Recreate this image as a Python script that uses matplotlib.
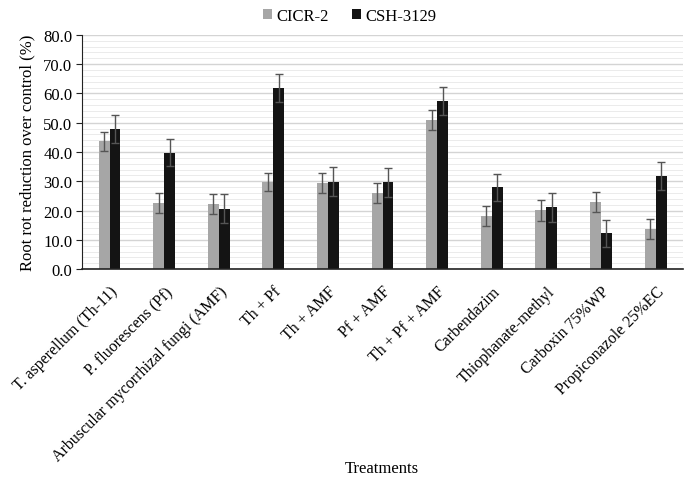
import numpy as np
import matplotlib.pyplot as plt
from matplotlib.ticker import MultipleLocator

plt.rcParams['font.family'] = ['Liberation Serif', 'DejaVu Serif']

tratamentos = ["T. asperellum (Th-11)", "P. fluorescens (Pf)", "Arbuscular mycorrhizal fungi (AMF)",
               "Th + Pf", "Th + AMF", "Pf + AMF", "Th + Pf + AMF", "Carbendazim",
               "Thiophanate-methyl", "Carboxin 75%WP", "Propiconazole 25%EC"]
cicr = [43.6, 22.6, 22.2, 29.9, 29.3, 26.0, 50.9, 18.2, 20.1, 23.0, 13.8]
cicr_err = [3.3, 3.3, 3.3, 3.1, 3.4, 3.4, 3.5, 3.5, 3.5, 3.4, 3.4]
csh = [47.9, 39.8, 20.7, 62.0, 29.9, 29.6, 57.4, 27.9, 21.1, 12.2, 31.9]
csh_err = [4.7, 4.6, 4.8, 4.8, 4.9, 4.9, 4.7, 4.6, 4.9, 4.6, 4.8]

x = np.arange(len(tratamentos))
w = 0.2

fig = plt.figure(figsize=(6.85, 4.85), dpi=100)
ax = fig.add_axes([0.12, 0.443, 0.877, 0.483])

ax.set_axisbelow(True)
ax.yaxis.set_major_locator(MultipleLocator(10))
ax.yaxis.set_minor_locator(MultipleLocator(2))
ax.grid(axis='y', which='major', color='#d4d4d4', linewidth=1.0)
ax.grid(axis='y', which='minor', color='#ebebeb', linewidth=0.7)

erro = dict(ecolor='#555555', elinewidth=1.0, capsize=3, capthick=1.0)
ax.bar(x - w/2, cicr, w, yerr=cicr_err, color='#a6a6a6', label='CICR-2', error_kw=erro)
ax.bar(x + w/2, csh, w, yerr=csh_err, color='#141414', label='CSH-3129', error_kw=erro)

ax.set_xlim(-0.5, len(tratamentos) - 0.5)
ax.set_ylim(0, 80)
ax.set_yticks(np.arange(0, 81, 10))
ax.set_yticklabels([f"{v:.1f}" for v in np.arange(0, 81, 10)], fontsize=12)
ax.set_xticks(x)
ax.set_xticklabels(tratamentos, rotation=45, ha='right', rotation_mode='anchor', fontsize=11.5)
ax.tick_params(axis='x', length=0, pad=10)
ax.tick_params(axis='y', which='major', length=4, direction='out', color='#222222', pad=3)
ax.tick_params(axis='y', which='minor', length=0)

for lado in ['top', 'right']:
    ax.spines[lado].set_visible(False)
ax.spines['left'].set_color('#222222')
ax.spines['bottom'].set_color('#222222')
ax.spines['bottom'].set_linewidth(1.2)

ax.set_ylabel("Root rot reduction over control (%)", fontsize=12, labelpad=6)
fig.text(0.557, 0.025, "Treatments", ha='center', fontsize=12)

fig.legend(loc='upper center', bbox_to_anchor=(0.51, 1.012), ncol=2, frameon=False,
           fontsize=12, handlelength=0.55, handleheight=0.55, handletextpad=0.25, columnspacing=1.4)

fig.savefig("out.png", dpi=100)
